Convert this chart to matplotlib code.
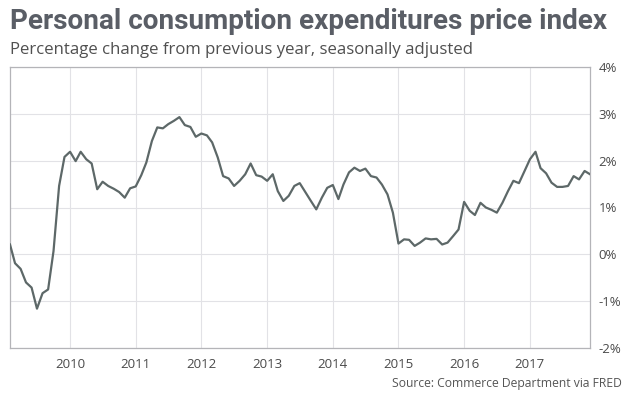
import matplotlib
matplotlib.use("Agg")
import matplotlib.pyplot as plt
import matplotlib.dates as mdates
import pandas as pd

# PCE price index, % change from a year earlier, monthly Feb 2009 - Dec 2017
start_month = "2009-02-01"
pce_yoy = [
    0.21, -0.19, -0.31, -0.60, -0.71, -1.16, -0.83, -0.75, 0.07, 1.46,
    2.08, 2.19, 1.99, 2.19, 2.03, 1.94, 1.39, 1.55, 1.46, 1.40,
    1.33, 1.21, 1.41, 1.45, 1.69, 1.96, 2.42, 2.71, 2.69, 2.78,
    2.85, 2.93, 2.76, 2.72, 2.51, 2.58, 2.54, 2.39, 2.07, 1.67,
    1.62, 1.46, 1.57, 1.71, 1.94, 1.69, 1.66, 1.57, 1.71, 1.35,
    1.14, 1.25, 1.46, 1.52, 1.33, 1.14, 0.96, 1.21, 1.42, 1.48,
    1.18, 1.49, 1.75, 1.85, 1.78, 1.83, 1.67, 1.64, 1.49, 1.28,
    0.89, 0.23, 0.32, 0.31, 0.18, 0.25, 0.34, 0.32, 0.33, 0.21,
    0.25, 0.39, 0.53, 1.12, 0.93, 0.84, 1.10, 1.00, 0.95, 0.89,
    1.10, 1.35, 1.57, 1.52, 1.77, 2.03, 2.19, 1.84, 1.73, 1.53,
    1.44, 1.44, 1.46, 1.67, 1.60, 1.78, 1.71,
]
dates = pd.date_range(start_month, periods=len(pce_yoy), freq="MS")

year_ticks = list(range(2010, 2018))
y_ticks = [-2, -1, 0, 1, 2, 3, 4]

title = "Personal consumption expenditures price index"
subtitle = "Percentage change from previous year, seasonally adjusted"
source = "Source: Commerce Department via FRED"

fig = plt.figure(figsize=(6.42, 3.96), dpi=100)
ax = fig.add_axes([10 / 642, 1 - 348 / 396, 580 / 642, 281 / 396])

ax.plot(dates, pce_yoy, color="#5d6868", linewidth=1.6, zorder=3)

ax.set_xlim(dates[0], dates[-1])
ax.set_ylim(-2, 4)
ax.set_xticks([pd.Timestamp(f"{y}-01-01") for y in year_ticks])
ax.xaxis.set_major_formatter(mdates.DateFormatter("%Y"))
ax.set_yticks(y_ticks)
ax.set_yticklabels([f"{v}%" for v in y_ticks])
ax.yaxis.tick_right()

ax.grid(True, color="#e2e2e6", linewidth=0.8)
ax.set_axisbelow(True)
for sp in ax.spines.values():
    sp.set_color("#b4b4b8")
    sp.set_linewidth(0.9)

ax.tick_params(axis="both", length=0, labelsize=9.5, labelcolor="#4a4a4a")
ax.tick_params(axis="y", pad=6)
ax.tick_params(axis="x", pad=7)
for lab in ax.get_xticklabels() + ax.get_yticklabels():
    lab.set_family("Open Sans")

fig.text(10 / 642, 1 - 29 / 396, title, fontsize=20.1, fontweight="bold",
         family="Roboto", color="#5a5e66", ha="left", va="baseline")
fig.text(10 / 642, 1 - 54 / 396, subtitle, fontsize=12.1, family="Open Sans",
         color="#505050", ha="left", va="baseline")
fig.text(622 / 642, 1 - 387 / 396, source, fontsize=8.7, family="Open Sans",
         color="#555555", ha="right", va="baseline")

fig.savefig("out.png", dpi=100, facecolor="white")
